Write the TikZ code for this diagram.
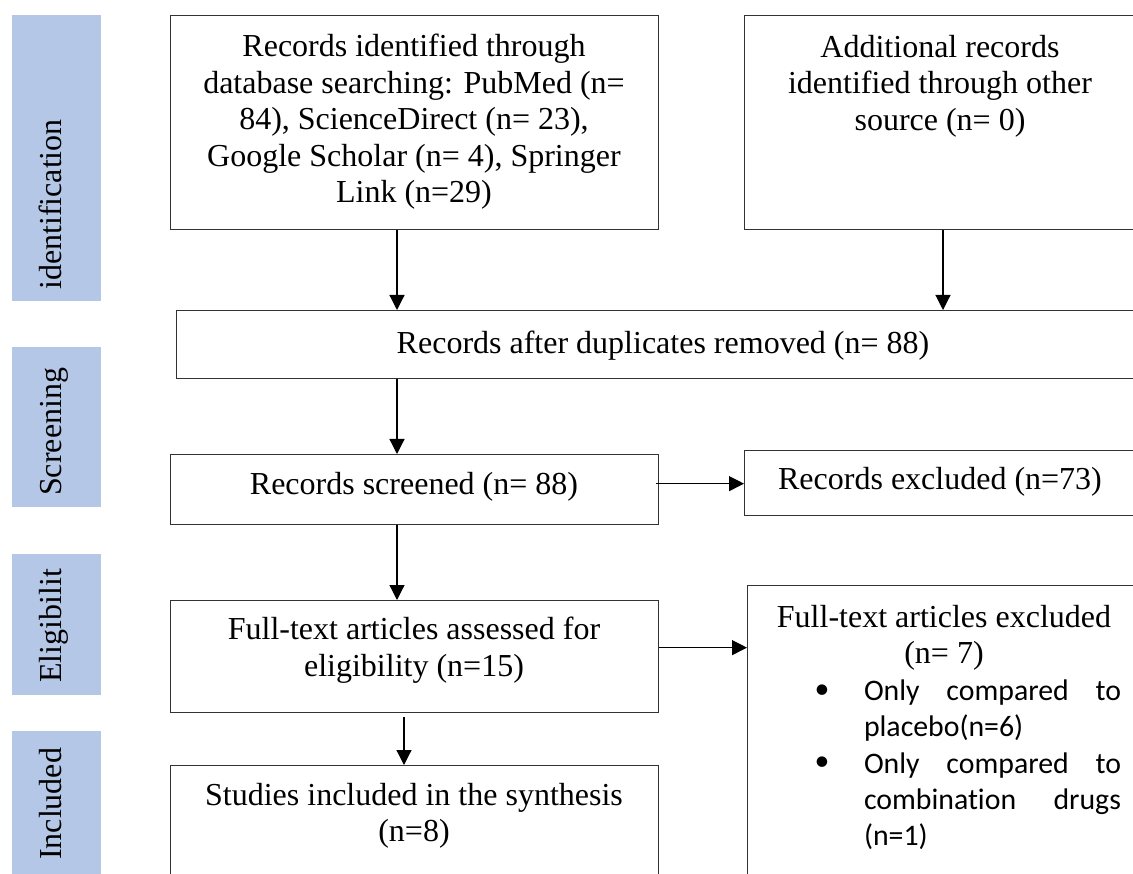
\documentclass[tikz,border=0pt]{standalone}
\usepackage{fontspec}
\setmainfont{Liberation Serif}
\newfontfamily\calibfont[Ligatures=NoCommon]{Carlito}
\usetikzlibrary{arrows.meta}
\definecolor{barblue}{HTML}{B4C7E7}
\begin{document}
\begin{tikzpicture}[x=1pt,y=-1pt,
  box/.style={draw=black!80, line width=1.3pt, inner sep=0pt, anchor=north west},
  bar/.style={fill=barblue, draw=none, inner sep=0pt, anchor=north west},
  txt/.style={font=\fontsize{32}{36.5}\selectfont, align=center, inner sep=0pt},
  sidetxt/.style={font=\fontsize{32}{36.5}\selectfont, rotate=90, anchor=base west, inner sep=0pt},
  bul/.style={font=\calibfont\fontsize{29.8}{36}\selectfont, align=left, inner sep=0pt},
  arr/.style={line width=1.2pt, -{Triangle[length=15pt,width=15pt]}}]
\useasboundingbox (0,0) rectangle (1133,874);
\clip (0,0) rectangle (1133,874);
% side bars
\node[bar, minimum width=89pt, minimum height=286pt] (b1) at (12,15) {};
\node[bar, minimum width=89pt, minimum height=160pt] (b2) at (12,347) {};
\node[bar, minimum width=89pt, minimum height=141pt] (b3) at (12,554) {};
\node[bar, minimum width=89pt, minimum height=160pt] (b4) at (12,731) {};
\node[sidetxt] (l1) at (61,290) {identification};
\node[sidetxt] (l2) at (61,496) {Screening};
\node[sidetxt] (l3) at (61,683) {Eligibilit};
\node[sidetxt] (l4) at (61,860) {Included};
% boxes
\node[box, minimum width=488pt, minimum height=214pt] (tl) at (170,15) {};
\node[box, minimum width=396pt, minimum height=214pt] (tr) at (744,15) {};
\node[box, minimum width=974pt, minimum height=68pt] (dup) at (176,310) {};
\node[box, minimum width=488pt, minimum height=70pt] (scr) at (170,454) {};
\node[box, minimum width=396pt, minimum height=65pt] (exc) at (744,450) {};
\node[box, minimum width=488pt, minimum height=112pt] (elig) at (170,600) {};
\node[box, minimum width=398pt, minimum height=320pt] (fx) at (747,585) {};
\node[box, minimum width=488pt, minimum height=140pt] (inc) at (170,765) {};
% texts
\node[txt] (tlt) at (414,122) {Records identified through\\database searching: PubMed (n=\\84), ScienceDirect (n= 23),\\Google Scholar (n= 4), Springer\\Link (n=29)};
\node[txt] (trt) at (940,86) {Additional records\\identified through other\\source (n= 0)};
\node[txt] (dupt) at (663,345.5) {Records after duplicates removed (n= 88)};
\node[txt] (scrt) at (414,487) {Records screened (n= 88)};
\node[txt] (exct) at (940,482) {Records excluded (n=73)};
\node[txt] (eligt) at (414,650) {Full-text articles assessed for\\eligibility (n=15)};
\node[txt] (inct) at (414,816) {Studies included in the synthesis\\(n=8)};
\node[txt] (fxt) at (944,638) {Full-text articles excluded\\(n= 7)};
\node[bul] (d1) at (822,692) {•};
\node[bul] (d2) at (822,764) {•};
\node[bul] (i1) at (992.5,711) {\makebox[257pt][s]{Only compared to}\\placebo(n=6)};
\node[bul] (i2) at (992.5,801) {\makebox[257pt][s]{Only compared to}\\\makebox[257pt][s]{combination drugs}\\(n=1)};
% arrows
\coordinate (a1) at ([xshift=227pt]tl.south west);
\draw[arr] (a1) -- (a1 |- dup.north);
\coordinate (a2) at ([xshift=199pt]tr.south west);
\draw[arr] (a2) -- (a2 |- dup.north);
\coordinate (a3) at ([xshift=221pt]dup.south west);
\draw[arr] (a3) -- (a3 |- scr.north);
\coordinate (a4) at ([xshift=-3pt,yshift=6pt]scr.east);
\draw[arr] (a4) -- (a4 -| exc.west);
\coordinate (a5) at ([xshift=227pt]scr.south west);
\draw[arr] (a5) -- (a5 |- elig.north);
\coordinate (a6) at ([yshift=9pt]elig.east);
\draw[arr] (a6) -- (a6 -| fx.west);
\coordinate (a7) at ([xshift=234pt,yshift=-4pt]elig.south west);
\draw[arr] (a7) -- (a7 |- inc.north);
\end{tikzpicture}
\end{document}
